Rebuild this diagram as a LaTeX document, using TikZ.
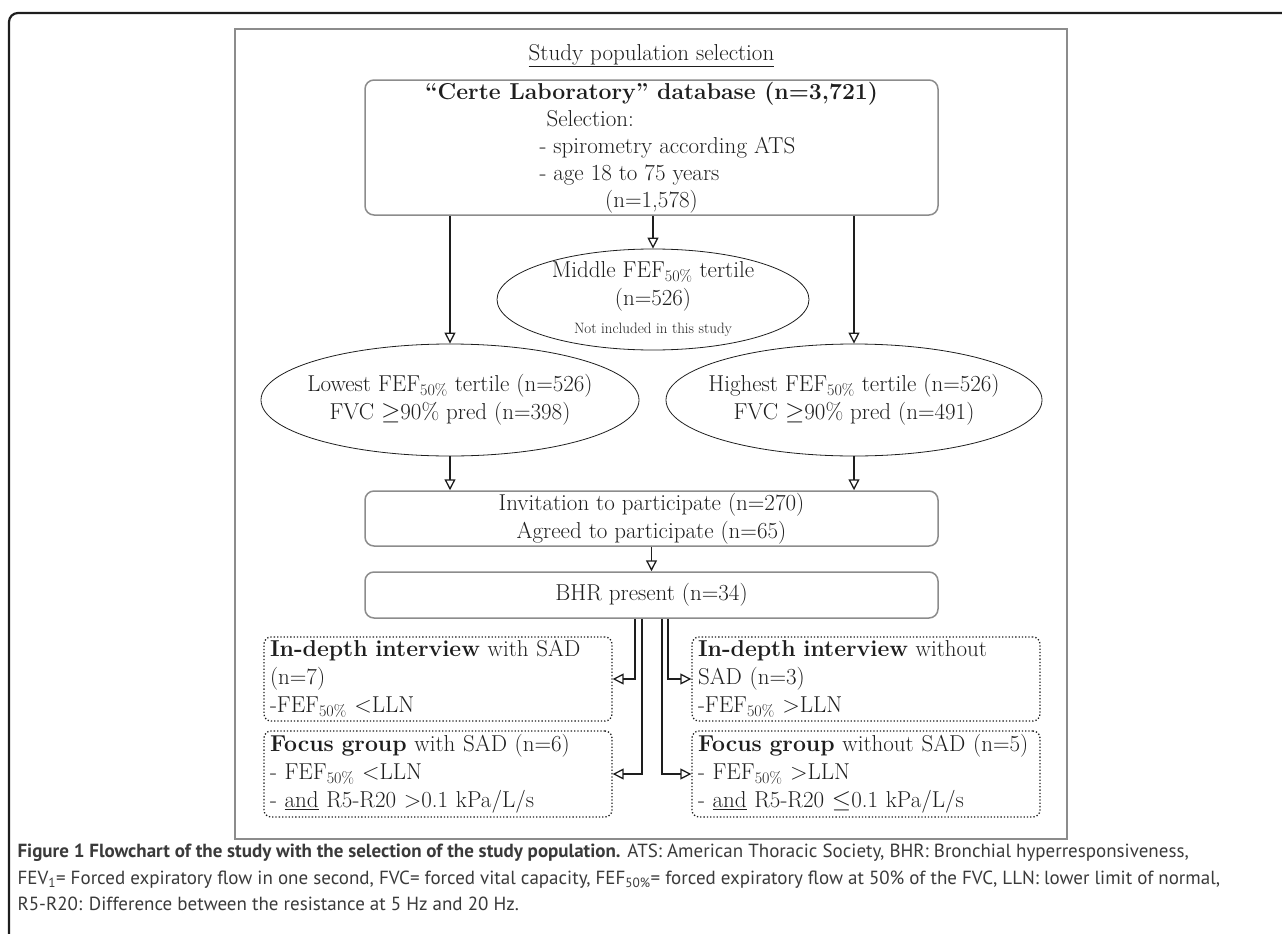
\documentclass[tikz,border=0pt]{standalone}
\usepackage{fontspec}
\usepackage{tikz}
\usetikzlibrary{shapes.geometric,arrows.meta}
\newfontfamily\capfont{PT Sans}
\definecolor{ink}{HTML}{1E1E1E}
\definecolor{boxgray}{HTML}{8C8C8C}
\definecolor{capgray}{HTML}{3A3A3A}

\begin{document}
\begin{tikzpicture}[x=1pt,y=-1pt,font=\fontsize{23}{28}\selectfont,text=ink,
stage/.style={draw=boxgray,line width=1.5pt,rounded corners=9pt,minimum width=573pt,inner sep=0pt,align=center},
tertile/.style={draw=ink,ellipse,line width=0.8pt,inner sep=0pt},
group/.style={draw=ink,dotted,line width=1.3pt,rounded corners=7pt,minimum width=348pt,text width=336pt,inner xsep=6pt,inner ysep=0pt,align=left},
arr/.style={draw=ink,line width=1.3pt,-{Triangle[open,length=11pt,width=11pt]}},
caption/.style={anchor=base west,text=capgray,font=\capfont\fontsize{19}{22}\selectfont}]
\useasboundingbox (0,0) rectangle (1282,934);
\draw[ink,line width=2.2pt,rounded corners=9pt] (9,934) -- (9,13) -- (1282,13);
\draw[boxgray,line width=1.5pt] (235,29) rectangle (1067,839);
\node[anchor=base] (title) at (651.5,60) {\underline{Study population selection}};
\node[stage,minimum height=135pt,font=\fontsize{23}{27}\selectfont] (1) at (651.5,147.5) {\textbf{“Certe Laboratory” database (n=3,721)}\\
\hspace*{56pt}\makebox[280pt][l]{\hspace{7pt}Selection:}\\
\hspace*{56pt}\makebox[280pt][l]{- spirometry according ATS}\\
\hspace*{56pt}\makebox[280pt][l]{- age 18 to 75 years}\\
(n=1,578)};
\node[tertile,minimum width=312pt,minimum height=101pt,label={[align=center]center:{Middle FEF\textsubscript{50\%} tertile\\(n=526)\\{\fontsize{15}{18}\selectfont Not included in this study}}}] (2) at (653,299.5) {};
\node[tertile,minimum width=378pt,minimum height=112pt,label={[align=center]center:{Lowest FEF\textsubscript{50\%} tertile (n=526)\\FVC $\geq$90\% pred (n=398)}}] (3) at (450,400) {};
\node[tertile,minimum width=376pt,minimum height=112pt,label={[align=center]center:{Highest FEF\textsubscript{50\%} tertile (n=526)\\FVC $\geq$90\% pred (n=491)}}] (4) at (854,400) {};
\node[stage,minimum height=55pt] (5) at (651.5,518.5) {Invitation to participate (n=270)\\Agreed to participate (n=65)};
\node[stage,minimum height=46pt] (6) at (651.5,595) {BHR present (n=34)};
\node[group,minimum height=84pt] (7) at (438,679) {\textbf{In-depth interview} with SAD\\(n=7)\\-FEF\textsubscript{50\%} <LLN};
\node[group,minimum height=86pt] (8) at (438,774) {\textbf{Focus group} with SAD (n=6)\\- FEF\textsubscript{50\%} <LLN\\- \underline{and} R5-R20 >0.1 kPa/L/s};
\node[group,minimum height=84pt] (9) at (866,679) {\textbf{In-depth interview} without\\SAD (n=3)\\-FEF\textsubscript{50\%} >LLN};
\node[group,minimum height=86pt] (10) at (866,774) {\textbf{Focus group} without SAD (n=5)\\- FEF\textsubscript{50\%} >LLN\\- \underline{and} R5-R20 $\leq$0.1 kPa/L/s};
\draw[arr] (3 |- 1.south) -- (3);
\draw[arr] (2 |- 1.south) -- (2);
\draw[arr] (4 |- 1.south) -- (4);
\draw[arr] (3) -- (3 |- 5.north);
\draw[arr] (4) -- (4 |- 5.north);
\draw[arr] (5) -- (6);
\draw[arr] ([xshift=-16.5pt]6.south) |- (7);
\draw[arr] ([xshift=-9.5pt]6.south) |- (8);
\draw[arr] ([xshift=10.5pt]6.south) |- (10);
\draw[arr] ([xshift=16.5pt]6.south) |- (9);
\node[caption] (cap1) at (14,857) {\textbf{Figure 1 Flowchart of the study with the selection of the study population.} ATS: American Thoracic Society, BHR: Bronchial hyperresponsiveness,};
\node[caption] (cap2) at (14,884) {FEV\textsubscript{1}= Forced expiratory flow in one second, FVC= forced vital capacity, FEF\textsubscript{50\%}= forced expiratory flow at 50\% of the FVC, LLN: lower limit of normal,};
\node[caption] (cap3) at (14,910) {R5-R20: Difference between the resistance at 5 Hz and 20 Hz.};
\end{tikzpicture}
\end{document}
